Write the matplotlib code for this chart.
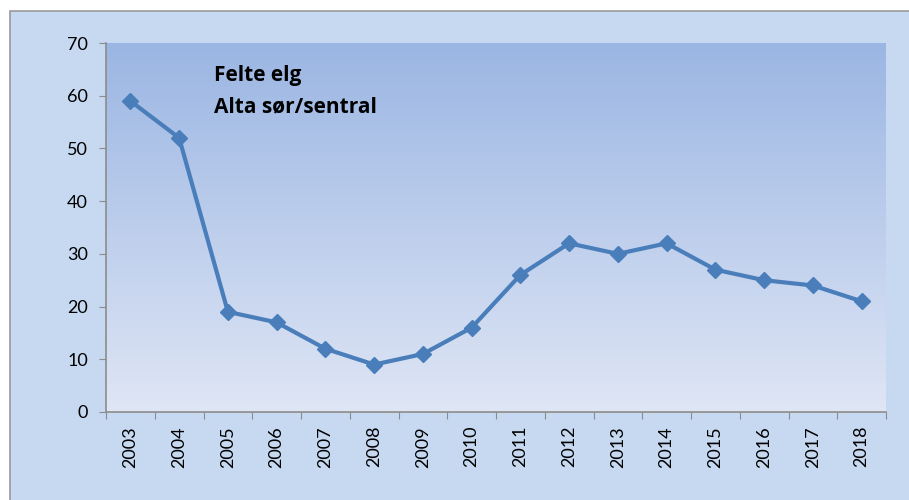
import matplotlib
matplotlib.use("Agg")
import matplotlib.pyplot as plt
import numpy as np
from matplotlib.colors import LinearSegmentedColormap
from matplotlib.patches import Rectangle

# ── data ──────────────────────────────────────────────────────────────────────
years = ["2003", "2004", "2005", "2006", "2007", "2008", "2009", "2010",
         "2011", "2012", "2013", "2014", "2015", "2016", "2017", "2018"]
felte = [59, 52, 19, 17, 12, 9, 11, 16, 26, 32, 30, 32, 27, 25, 24, 21]
y_ticks = [0, 10, 20, 30, 40, 50, 60, 70]
title_lines = ["Felte elg", "Alta sør/sentral"]

# ── styling ───────────────────────────────────────────────────────────────────
plt.rcParams["font.family"] = ["Lato", "DejaVu Sans"]
LINE_COLOR = "#4a7ebb"
CHART_BG = "#c6d9f1"
AXIS_COLOR = "#8c8c8c"

W, H = 909, 500
fig = plt.figure(figsize=(W / 100, H / 100), dpi=100)
fig.patch.set_facecolor("white")

# chart area box (extends past the right/bottom edge like the source)
fig.patches.append(Rectangle((10 / W, -0.05), 1.1, 1 - 11 / H + 0.05,
                             transform=fig.transFigure, facecolor=CHART_BG,
                             edgecolor="#9a9a9a", linewidth=1.2, zorder=-5))

ax = fig.add_axes([106 / W, 1 - 412 / H, (886 - 106) / W, (412 - 43) / H])
ax.set_facecolor("none")

# vertical gradient in the plot area
grad = LinearSegmentedColormap.from_list("g", ["#dfe6f5", "#9bb6e3"])
ax.imshow(np.linspace(0, 1, 256).reshape(-1, 1), cmap=grad, aspect="auto",
          origin="lower", extent=[0, 1, 0, 1], transform=ax.transAxes, zorder=0)

x = np.arange(len(years))
ax.plot(x, felte, color=LINE_COLOR, linewidth=3, marker="D", markersize=8,
        zorder=3)

ax.set_xlim(-0.5, len(years) - 0.5)
ax.set_ylim(0, 70)
ax.set_yticks(y_ticks)
ax.set_yticklabels([str(v) for v in y_ticks], fontsize=13)

# category axis: ticks between categories, labels centred
ax.set_xticks(np.arange(-0.5, len(years)))
ax.set_xticklabels([])
ax.set_xticks(x, minor=True)
ax.set_xticklabels(years, minor=True, rotation=90, fontsize=13)
ax.tick_params(axis="x", which="major", length=5, color=AXIS_COLOR)
ax.tick_params(axis="x", which="minor", length=0, pad=10)
ax.tick_params(axis="y", length=5, color=AXIS_COLOR, pad=8)

for s in ["top", "right"]:
    ax.spines[s].set_visible(False)
for s in ["left", "bottom"]:
    ax.spines[s].set_color(AXIS_COLOR)
    ax.spines[s].set_linewidth(1.2)

for line, ty in zip(title_lines, [0.913, 0.827]):
    ax.text(0.139, ty, line, transform=ax.transAxes,
            fontsize=15, fontweight="bold", va="center", ha="left",
            family=["Open Sans", "DejaVu Sans"], zorder=4)

fig.savefig("out.png", dpi=100, facecolor="white")
